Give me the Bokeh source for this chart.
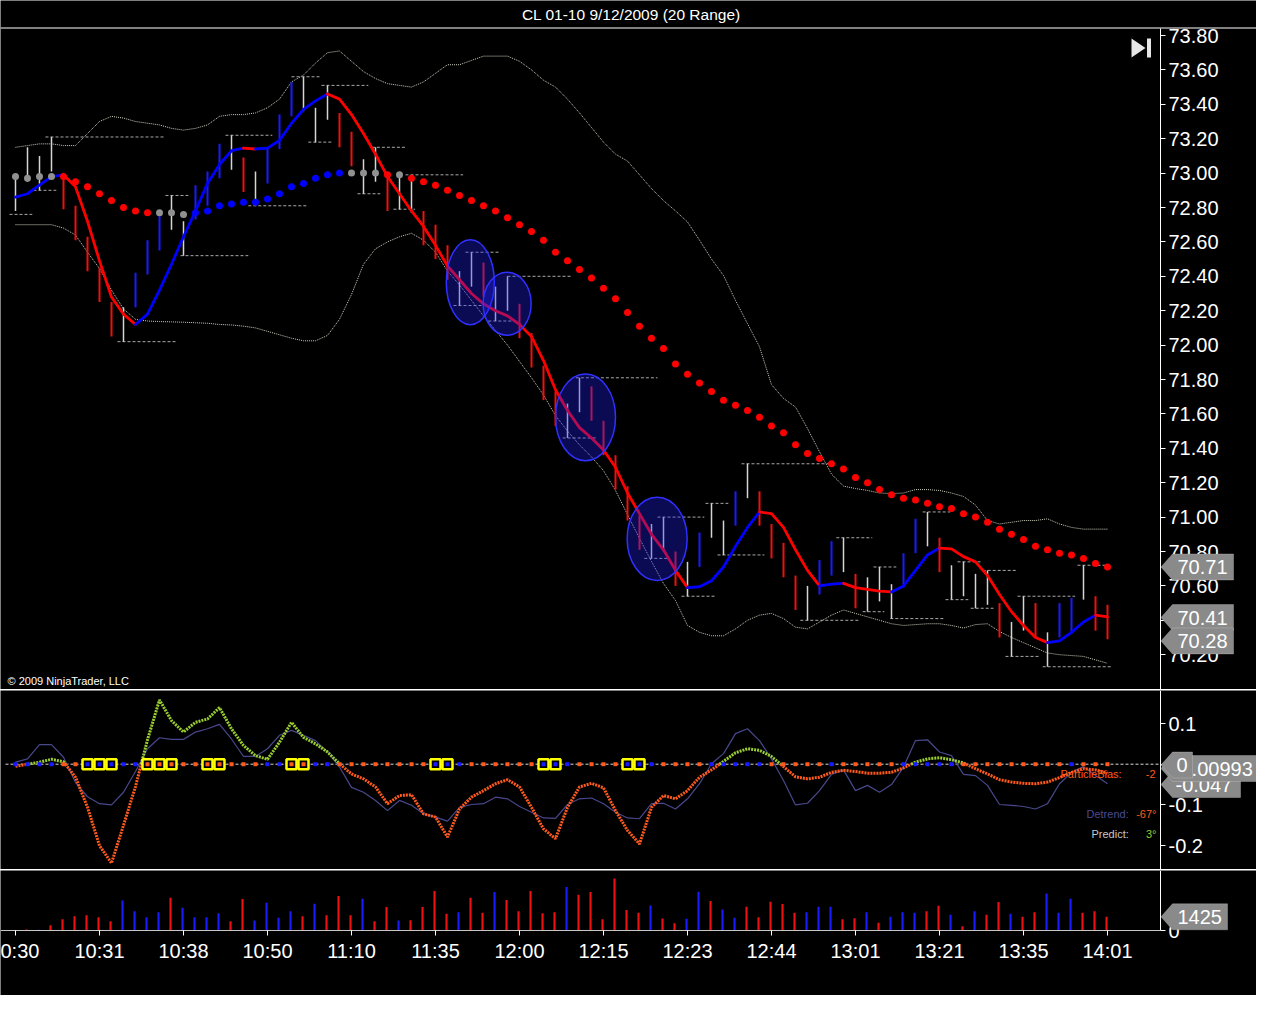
from bokeh.plotting import figure
from bokeh.layouts import column
from bokeh.models import (Range1d, FixedTicker, Label, PolyAnnotation, Div,
                          PrintfTickFormatter, LinearAxis)
from bokeh.embed import file_html
from bokeh.resources import INLINE

FONT = "Liberation Sans"
TITLE = "CL 01-10  9/12/2009 (20 Range)"

# ---------------- data ----------------
time_labels = ["0:30", "10:31", "10:38", "10:50", "11:10", "11:35", "12:00",
               "12:15", "12:23", "12:44", "13:01", "13:21", "13:35", "14:01"]
BARS_PER_LABEL = 7
BAR_RANGE = 0.20

bar_high = [72.98, 73.15, 73.10, 73.21, 72.99, 72.81, 72.63, 72.45, 72.25, 72.22,
            72.42, 72.61, 72.75, 72.87, 72.72, 72.93, 73.01, 73.17, 73.22, 73.09,
            73.01, 73.14, 73.34, 73.53, 73.56, 73.38, 73.51, 73.35, 73.24, 73.08,
            73.15, 72.98, 72.99, 72.97, 72.78, 72.70, 72.58, 72.43, 72.54, 72.48,
            72.34, 72.40, 72.24, 72.07, 71.88, 71.73, 71.66, 71.81, 71.76, 71.56,
            71.36, 71.18, 71.01, 70.96, 71.00, 70.80, 70.74, 70.91, 71.08, 70.98,
            71.15, 71.31, 71.15, 70.96, 70.85, 70.66, 70.60, 70.75, 70.86, 70.88,
            70.67, 70.65, 70.71, 70.61, 70.79, 70.99, 71.03, 70.88, 70.72, 70.74,
            70.67, 70.69, 70.50, 70.39, 70.54, 70.50, 70.33, 70.50, 70.53, 70.72,
            70.54, 70.49]
bar_kind = ("w w w w r r r r r w b b b w w b b b w r w b b b w w w r r w "
            "w r w w r r r w w r w w r r r r w w r r r r r w w r w b w w "
            "b w r r r r w b b w r w w w b b w r w w w w r w w r w b b w "
            "r r").split()

# dashed level lines: (start bar, end bar, price)
dash_start = [-0.5, 1.5, 2.5, 8.5, 12.5, 13.75, 17.5, 19.4, 23.0, 24.4, 25.5, 28.5,
              29.7, 31.5, 32.5, 36.5, 37.5, 39.4, 41.0, 45.6, 46.7, 52.4, 53.5, 55.5,
              57.5, 58.5, 60.5, 65.4, 68.4, 70.6, 71.5, 72.9, 75.6, 77.5, 78.5, 79.6,
              80.6, 82.5, 83.5, 85.6, 88.5]
dash_end = [1.4, 3.4, 12.4, 13.4, 14.4, 19.4, 21.4, 24.4, 25.4, 26.4, 29.4, 30.4,
            32.5, 33.3, 37.3, 39.0, 40.4, 41.8, 46.4, 48.5, 53.5, 54.3, 57.4, 58.3,
            59.4, 62.4, 67.9, 70.4, 71.4, 72.4, 73.4, 77.4, 77.9, 79.4, 80.5, 81.5,
            83.4, 85.4, 88.3, 91.4, 91.0]
dash_level = [72.76, 72.90, 73.21, 72.02, 72.87, 72.52, 73.22, 72.81, 73.56, 73.18,
              73.51, 72.88, 73.15, 72.79, 72.99, 72.23, 72.54, 72.14, 72.40, 71.46,
              71.81, 70.76, 71.00, 70.54, 71.08, 70.78, 71.31, 70.40, 70.88, 70.45,
              70.71, 70.41, 71.03, 70.52, 70.74, 70.47, 70.69, 70.19, 70.54, 70.13,
              70.72]

smooth = [72.86, 72.88, 72.93, 72.98, 72.99, 72.92, 72.72, 72.49, 72.28, 72.18,
          72.12, 72.18, 72.32, 72.47, 72.63, 72.78, 72.94, 73.05, 73.13, 73.145,
          73.14, 73.145, 73.19, 73.29, 73.37, 73.42, 73.46, 73.43, 73.34, 73.23,
          73.11, 72.98, 72.88, 72.78, 72.69, 72.58, 72.46, 72.38, 72.30, 72.24,
          72.20, 72.17, 72.12, 72.05, 71.91, 71.74, 71.62, 71.52, 71.46, 71.39,
          71.29, 71.14, 71.02, 70.90, 70.81, 70.69, 70.59, 70.595, 70.63, 70.71,
          70.83, 70.94, 71.03, 71.02, 70.94, 70.81, 70.69, 70.60, 70.61, 70.615,
          70.59, 70.58, 70.57, 70.565, 70.60, 70.69, 70.78, 70.82, 70.815, 70.77,
          70.74, 70.66, 70.55, 70.45, 70.37, 70.30, 70.27, 70.28, 70.33, 70.39,
          70.43, 70.42]

trail = [72.98, 72.97, 72.98, 72.98, 72.98, 72.95, 72.92, 72.88, 72.84, 72.80,
         72.78, 72.77, 72.77, 72.77, 72.76, 72.77, 72.78, 72.81, 72.82, 72.83,
         72.83, 72.85, 72.88, 72.92, 72.94, 72.97, 72.99, 73.00, 73.00, 73.00,
         73.00, 72.99, 72.99, 72.97, 72.95, 72.93, 72.90, 72.87, 72.84, 72.81,
         72.78, 72.74, 72.70, 72.66, 72.61, 72.54, 72.49, 72.44, 72.39, 72.33,
         72.27, 72.19, 72.11, 72.04, 71.98, 71.89, 71.83, 71.78, 71.73, 71.68,
         71.65, 71.62, 71.58, 71.53, 71.49, 71.42, 71.37, 71.34, 71.31, 71.28,
         71.23, 71.20, 71.16, 71.13, 71.11, 71.10, 71.08, 71.06, 71.05, 71.02,
         71.00, 70.97, 70.93, 70.90, 70.87, 70.83, 70.81, 70.79, 70.78, 70.76,
         70.73, 70.71]
trail_kind = ("g g g g r r r r r r r r g g g b b b b b b b b b b b b b g g "
              "g r g r r r r r r r r r r r r r r r r r r r r r r r r r r r "
              "r r r r r r r r r r r r r r r r r r r r r r r r r r r r r r "
              "r r").split()

band_upper = [73.15, 73.16, 73.17, 73.17, 73.16, 73.16, 73.23, 73.30, 73.33, 73.32,
              73.30, 73.29, 73.28, 73.26, 73.25, 73.26, 73.28, 73.33, 73.34, 73.34,
              73.35, 73.38, 73.43, 73.53, 73.57, 73.64, 73.70, 73.71, 73.65, 73.59,
              73.55, 73.52, 73.51, 73.50, 73.53, 73.58, 73.63, 73.63, 73.655, 73.68,
              73.68, 73.68, 73.65, 73.60, 73.54, 73.50, 73.43, 73.35, 73.265, 73.18,
              73.11, 73.07, 72.99, 72.91, 72.84, 72.78, 72.716, 72.61, 72.50, 72.405,
              72.26, 72.125, 71.99, 71.77, 71.69, 71.64, 71.515, 71.38, 71.25, 71.18,
              71.166, 71.155, 71.14, 71.137, 71.14, 71.16, 71.16, 71.155, 71.14, 71.12,
              71.07, 70.98, 70.96, 70.97, 70.98, 70.98, 70.99, 70.96, 70.94, 70.93,
              70.93, 70.93]
band_lower = [72.70, 72.70, 72.70, 72.70, 72.68, 72.64, 72.54, 72.445, 72.32, 72.21,
              72.15, 72.14, 72.137, 72.135, 72.133, 72.13, 72.127, 72.12, 72.117, 72.11,
              72.10, 72.08, 72.06, 72.04, 72.025, 72.025, 72.056, 72.15, 72.294, 72.47,
              72.56, 72.60, 72.63, 72.65, 72.61, 72.54, 72.43, 72.35, 72.26, 72.17,
              72.085, 72.00, 71.905, 71.81, 71.71, 71.59, 71.50, 71.42, 71.35, 71.27,
              71.155, 71.015, 70.876, 70.742, 70.614, 70.515, 70.37, 70.33, 70.31, 70.31,
              70.35, 70.40, 70.43, 70.44, 70.41, 70.36, 70.35, 70.39, 70.43, 70.46,
              70.44, 70.42, 70.40, 70.38, 70.37, 70.375, 70.38, 70.38, 70.37, 70.355,
              70.375, 70.38, 70.335, 70.30, 70.27, 70.24, 70.21, 70.20, 70.195, 70.19,
              70.17, 70.15]

ellipse_x = [37.9, 40.97, 47.5, 53.47]
ellipse_y = [72.366, 72.24, 71.58, 70.874]
ellipse_w = [4.0, 4.0, 5.0, 5.0]
ellipse_h = [0.494, 0.366, 0.504, 0.484]

predict = [-0.005, 0.000, 0.005, 0.012, 0.006, -0.032, -0.106, -0.200, -0.243, -0.150,
           -0.055, 0.060, 0.158, 0.107, 0.079, 0.103, 0.111, 0.139, 0.087, 0.046,
           0.021, 0.012, 0.054, 0.103, 0.066, 0.050, 0.030, 0.001, -0.024, -0.036,
           -0.056, -0.097, -0.077, -0.075, -0.122, -0.130, -0.179, -0.110, -0.081, -0.065,
           -0.048, -0.038, -0.056, -0.106, -0.159, -0.183, -0.106, -0.056, -0.047, -0.058,
           -0.114, -0.163, -0.196, -0.106, -0.077, -0.085, -0.065, -0.032, -0.014, 0.007,
           0.028, 0.038, 0.034, 0.019, -0.006, -0.031, -0.036, -0.032, -0.020, -0.015,
           -0.018, -0.022, -0.022, -0.020, -0.009, 0.005, 0.013, 0.016, 0.011, 0.003,
           -0.011, -0.024, -0.038, -0.044, -0.047, -0.048, -0.044, -0.033, -0.020, -0.011,
           -0.014, -0.022]
detrend = [0.005, 0.013, 0.048, 0.048, 0.017, -0.045, -0.080, -0.097, -0.100, -0.069,
           -0.018, 0.038, 0.065, 0.061, 0.061, 0.079, 0.087, 0.098, 0.062, 0.019,
           0.019, 0.038, 0.071, 0.083, 0.071, 0.058, 0.030, -0.007, -0.057, -0.069,
           -0.089, -0.114, -0.089, -0.101, -0.122, -0.130, -0.140, -0.106, -0.099, -0.097,
           -0.081, -0.085, -0.104, -0.118, -0.132, -0.133, -0.099, -0.085, -0.083, -0.097,
           -0.118, -0.132, -0.134, -0.097, -0.096, -0.110, -0.085, -0.048, 0.001, 0.026,
           0.075, 0.087, 0.058, 0.013, -0.040, -0.100, -0.096, -0.065, -0.025, -0.014,
           -0.065, -0.052, -0.069, -0.050, -0.007, 0.058, 0.060, 0.030, 0.021, -0.025,
           -0.028, -0.052, -0.099, -0.101, -0.104, -0.110, -0.097, -0.048, -0.020, -0.006,
           -0.028, -0.048]
bias_kind = ("b b b b o o Yb Yb Yb b b Yo Yo Yo o o Yo Yo o o o b b Yo Yo b b "
             "o o o o o o o o Yb Yb b o o o o o o Yb Yb b o o o o Yb Yb b "
             "o o o o b b b b b o o o o o b o o o o o b b b b b "
             "o o o o o o o o o b o o o").split()

volume = [0, 104, 70, 556, 1181, 1494, 1598, 1390, 973, 3127,
          2015, 1390, 1911, 3405, 2363, 1390, 1390, 1807, 973, 3266,
          1042, 2884, 1320, 2015, 1494, 2780, 1598, 3579, 1598, 3301,
          973, 2432, 1042, 1077, 2432, 4100, 1737, 1911, 3405, 1842,
          3996, 3162, 2015, 4100, 1807, 1911, 4517, 3718, 3996, 1181,
          5421, 2120, 1842, 2606, 1251, 764, 1216, 4031, 3058, 2189,
          1320, 2467, 1390, 2988, 2745, 1842, 1911, 2467, 2467, 1181,
          1286, 1911, 799, 1425, 1911, 1842, 2015, 2571, 1633, 452,
          2015, 1633, 2954, 1737, 1425, 1911, 3857, 1842, 3301, 1842,
          2015, 1425]
volume_kind = ("r r b r r r r r r b b b b r b b b b r r b b b b r b r r r b "
               "r r b r r r r b r r b r r r r r b r r r r r r b r r b b r b "
               "b r r r r r b b b r r b r b b b r r b r b r r b r r b b b r "
               "r r").split()

price_ticks = [70.20, 70.40, 70.60, 70.80, 71.00, 71.20, 71.40, 71.60, 71.80, 72.00,
               72.20, 72.40, 72.60, 72.80, 73.00, 73.20, 73.40, 73.60, 73.80]
osc_ticks = [-0.2, -0.1, 0.0, 0.1]

last_trail = 70.71
last_smooth = 70.41
last_close = 70.28
bias_tags = ["0", "0.00993", "-0.047"]
last_volume = 1425

n = len(bar_high)
assert all(len(a) == n for a in [bar_kind, smooth, trail, trail_kind, band_upper,
                                 band_lower, predict, detrend, bias_kind, volume,
                                 volume_kind])
idx = list(range(n))

# ---------------- geometry helpers (reference pixel -> data) ----------------
W = 1256
AXIS_PX = 1160
X0_PX, PX_PER_BAR = 15.0, 12.0


def X(px):
    return (px - X0_PX) / PX_PER_BAR


x_range = Range1d(X(0), X(W))

BG = "black"
RED, BLUE, WHITE = "#ee1111", "#1a1aff", "#d4d4d4"
ORANGE, GREEN = "#ff5a1e", "#9acd32"


def base_fig(height, y_range, axis_bounds="auto"):
    p = figure(width=W, height=height, x_range=x_range, y_range=y_range,
               toolbar_location=None, output_backend="svg",
               x_axis_location=None, y_axis_location="right",
               min_border=0,
               background_fill_color=BG, border_fill_color=BG,
               outline_line_color=None)
    p.grid.visible = False
    ax = p.yaxis[0]
    ax.fixed_location = X(AXIS_PX)
    ax.bounds = axis_bounds
    ax.axis_line_color = "white"
    ax.major_tick_line_color = "white"
    ax.minor_tick_line_color = None
    ax.major_tick_out = 5
    ax.major_tick_in = 0
    ax.major_label_text_color = "white"
    ax.major_label_text_font = FONT
    ax.major_label_text_font_size = "20px"
    ax.major_label_standoff = 3
    return p


def tag(p, text, yc, px_per_unit, right_px, text_px=1177, color="#8a8a8a"):
    h = 13.0 / px_per_unit
    xs = [X(1160.5), X(1172), X(right_px), X(right_px), X(1172)]
    ys = [yc, yc + h, yc + h, yc - h, yc - h]
    p.add_layout(PolyAnnotation(xs=xs, ys=ys, fill_color=color, fill_alpha=1.0,
                                line_color="#d0d0d0", line_width=1))
    p.add_layout(Label(x=X(text_px), y=yc, text=text, text_color="white",
                       text_font=FONT, text_font_size="20px",
                       text_baseline="middle", text_align="left"))


def runs(xs, ys, cols):
    rx, ry, rc = [], [], []
    cx, cy, cc = [xs[0]], [ys[0]], cols[0]
    for k, c in enumerate(cols):
        if c != cc:
            rx.append(cx); ry.append(cy); rc.append(cc)
            cx, cy, cc = [xs[k]], [ys[k]], c
        cx.append(xs[k + 1]); cy.append(ys[k + 1])
    rx.append(cx); ry.append(cy); rc.append(cc)
    return rx, ry, rc


def sep():
    return Div(width=W, height=1, margin=0, styles={"background-color": "white"})


# ---------------- price panel (with title strip on top) ----------------
P_TOP_PX, P_PX_PER_UNIT, P_REF = 35.0, 172.0, 73.80


def Y(px):
    return P_REF - (px - P_TOP_PX) / P_PX_PER_UNIT


p1 = base_fig(689, Range1d(Y(689), Y(0)), (Y(689), Y(27.5)))
p1.yaxis.ticker = FixedTicker(ticks=price_ticks)
p1.yaxis.formatter = PrintfTickFormatter(format="%.2f")

p1.add_layout(Label(x=X(633), y=Y(13.5), text=TITLE, text_align="center",
                    text_baseline="middle", text_color="white",
                    text_font=FONT, text_font_size="15.5px"))
p1.segment(x0=[X(0)], y0=[Y(27.5)], x1=[X(W)], y1=[Y(27.5)],
           line_color="white", line_width=1.2)

dot_line = dict(line_dash="1 1", line_color="#cfcfbf", line_width=1)
p1.line(idx, band_upper, **dot_line)
p1.line(idx, band_lower, **dot_line)
p1.segment(x0=dash_start, y0=dash_level, x1=dash_end, y1=dash_level,
           line_color="#a8a8a8", line_dash="3 2", line_width=1)

kind_col = {"r": RED, "b": BLUE, "w": WHITE}
bar_low = [h - BAR_RANGE for h in bar_high]
p1.segment(x0=idx, y0=bar_low, x1=idx, y1=bar_high,
           line_color=[kind_col[k] for k in bar_kind],
           line_width=[1.5 if k == "w" else 2 for k in bar_kind])

seg_cols, prev = [], "r"
for a, b in zip(smooth[:-1], smooth[1:]):
    c = "b" if b > a else ("r" if b < a else prev)
    seg_cols.append(c)
    prev = c
rx, ry, rc = runs(idx, smooth, seg_cols)
p1.multi_line(rx, ry, line_color=[{"r": "#ff0000", "b": "#0000ff"}[c] for c in rc],
              line_width=2.8, line_join="round", line_cap="round")

trail_col = {"r": "#ff0000", "b": "#0000ff", "g": "#909090"}
p1.scatter(idx, trail, size=7, line_color=None,
           fill_color=[trail_col[k] for k in trail_kind])

p1.ellipse(x=ellipse_x, y=ellipse_y, width=ellipse_w, height=ellipse_h,
           fill_color="#2020ff", fill_alpha=0.33, line_color="#3030ff",
           line_width=1.5)

p1.add_layout(Label(x=X(7), y=Y(680), text="\u00a9 2009 NinjaTrader, LLC",
                    text_color="white", text_font=FONT, text_font_size="11px",
                    text_baseline="middle"))
# "go to end" icon
p1.add_layout(PolyAnnotation(xs=[X(1131), X(1145), X(1131)],
                             ys=[Y(38), Y(47.5), Y(57)],
                             fill_color="#e6e6e6", fill_alpha=1, line_color=None))
p1.add_layout(PolyAnnotation(xs=[X(1146.5), X(1150.5), X(1150.5), X(1146.5)],
                             ys=[Y(38), Y(38), Y(57), Y(57)],
                             fill_color="#e6e6e6", fill_alpha=1, line_color=None))

tag(p1, f"{last_trail:.2f}", last_trail, P_PX_PER_UNIT, 1233)
tag(p1, f"{last_smooth:.2f}", 70.416, P_PX_PER_UNIT, 1233)
tag(p1, f"{last_close:.2f}", last_close, P_PX_PER_UNIT, 1233)

# ---------------- oscillator panel ----------------
O_ZERO_PX, O_PX_PER_UNIT = 763.7, 407.0


def OY(px):
    return (O_ZERO_PX - px) / O_PX_PER_UNIT


p2 = base_fig(179, Range1d(OY(869), OY(690)))
p2.yaxis.ticker = FixedTicker(ticks=osc_ticks)
p2.yaxis.major_label_overrides = {-0.2: "-0.2", -0.1: "-0.1", 0: "0", 0.1: "0.1"}

p2.segment(x0=[X(5)], y0=[0], x1=[X(AXIS_PX)], y1=[0], line_color="#d8d8d8",
           line_dash="3 2", line_width=1)
p2.line(idx, detrend, line_color="#48488c", line_width=1.2)

px, py = [0], [predict[0]]
for i in range(n - 1):
    a, b = predict[i], predict[i + 1]
    if a * b < 0:
        px.append(i + a / (a - b)); py.append(0.0)
    px.append(i + 1); py.append(b)
pcols = ["g" if (py[k] + py[k + 1]) / 2 > 0 else "o" for k in range(len(px) - 1)]
rx, ry, rc = runs(px, py, pcols)
p2.multi_line(rx, ry, line_color=[GREEN if c == "g" else ORANGE for c in rc],
              line_width=3, line_dash="2 1")

ring_idx = [i for i, k in enumerate(bias_kind) if k.startswith("Y")]
p2.scatter(ring_idx, [0] * len(ring_idx), marker="square", size=10,
           line_color="#ffff00", line_width=2.5, fill_color="black")
p2.scatter(idx, [0] * n, marker="square", size=4, line_color=None,
           fill_color=[BLUE if k.endswith("b") else ORANGE for k in bias_kind])

legend = [("ParticleBias:", 1060, "left", 773, ORANGE), ("-2", 1155, "right", 773, ORANGE),
          ("Detrend:", 1086, "left", 813.3, "#4b4b96"), ("-67\u00b0", 1156, "right", 813.3, ORANGE),
          ("Predict:", 1091, "left", 833.3, "#c8c8c8"), ("3\u00b0", 1156, "right", 833.3, GREEN)]
for txt, xp, al, yp, col in legend:
    p2.add_layout(Label(x=X(xp), y=OY(yp), text=txt, text_color=col, text_font=FONT,
                        text_font_size="11px", text_align=al, text_baseline="middle"))

tag(p2, bias_tags[2], OY(784), O_PX_PER_UNIT, 1240, text_px=1175)
tag(p2, bias_tags[1], OY(768), O_PX_PER_UNIT, 1264, text_px=1180)
tag(p2, bias_tags[0], OY(764.5), O_PX_PER_UNIT, 1192, text_px=1176)

# ---------------- volume panel (with time axis strip below) ----------------
V_PER_PX = 104.0
V_TOP = 60 * V_PER_PX
p3 = base_fig(125, Range1d(-65 * V_PER_PX, V_TOP), (0, V_TOP))
p3.yaxis.ticker = FixedTicker(ticks=[0])
p3.vbar(x=[i - 0.08 for i in idx], top=volume, width=0.18, line_color=None,
        fill_color=[RED if k == "r" else BLUE for k in volume_kind])

xa = LinearAxis(fixed_location=0)
p3.add_layout(xa, "below")
ticks = [BARS_PER_LABEL * k for k in range(len(time_labels))]
xa.ticker = FixedTicker(ticks=ticks)
xa.major_label_overrides = {t: s for t, s in zip(ticks, time_labels)}
xa.bounds = (X(0), X(AXIS_PX))
xa.axis_line_color = "#c8c8c8"
xa.major_tick_line_color = "white"
xa.minor_tick_line_color = None
xa.major_tick_out = 5
xa.major_tick_in = 0
xa.major_label_text_color = "white"
xa.major_label_text_font = FONT
xa.major_label_text_font_size = "20px"
xa.major_label_standoff = 4

tag(p3, str(last_volume), last_volume, 1.0 / V_PER_PX, 1227)

layout = column(p1, sep(), p2, sep(), p3, spacing=0)
open("out.html", "w").write(file_html(layout, INLINE))
